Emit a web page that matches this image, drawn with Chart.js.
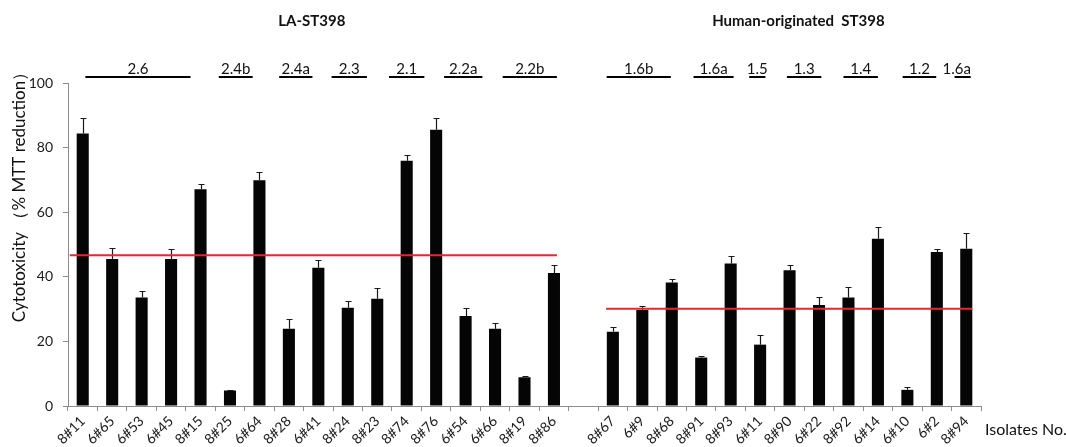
<!DOCTYPE html>
<html>
<head>
<meta charset="utf-8">
<title>Cytotoxicity of ST398 isolates</title>
<script src="https://cdn.jsdelivr.net/npm/chart.js@4.4.1/dist/chart.umd.min.js"></script>
<style>
  html, body { margin: 0; padding: 0; background: #fff; }
  #wrap { width: 1066px; height: 447px; }
</style>
</head>
<body>
<div id="wrap"><canvas id="chart" width="1066" height="447"></canvas></div>
<script>
// Isolates (an empty slot separates the two origin groups)
const isolates = [
  '8#11', '6#65', '6#53', '6#45', '8#15', '8#25', '6#64', '8#28', '6#41',
  '8#24', '8#23', '8#74', '8#76', '6#54', '6#66', '8#19', '8#86',
  '',
  '8#67', '6#9', '8#68', '8#91', '8#93', '6#11', '8#90', '6#22', '8#92',
  '6#14', '6#10', '6#2', '8#94'
];

// Mean cytotoxicity (% MTT reduction)
const cytotoxicity = [
  84.4, 45.5, 33.6, 45.5, 67.1, 4.8, 69.9, 23.9, 42.8,
  30.4, 33.2, 75.9, 85.5, 27.9, 23.9, 8.9, 41.2,
  null,
  23.0, 29.7, 38.2, 15.0, 44.1, 19.0, 42.0, 31.3, 33.6,
  51.8, 5.0, 47.7, 48.7
];

// Standard deviation (upper error bar)
const deviation = [
  4.7, 3.5, 1.9, 3.1, 1.5, 0.3, 2.7, 3.0, 2.3,
  2.1, 3.3, 1.9, 3.7, 2.3, 1.7, 0.5, 2.4,
  null,
  1.5, 1.4, 1.2, 0.6, 2.3, 3.1, 1.8, 2.6, 3.2,
  3.5, 1.0, 0.9, 4.8
];

// Group reference levels (red lines)
const groupTitles = ['LA-ST398', 'Human-originated  ST398'];
const groupLevels = [46.7, 30.1];

// Clade labels above the bars
const cladeLabels = ['2.6', '2.4b', '2.4a', '2.3', '2.1', '2.2a', '2.2b',
                     '1.6b', '1.6a', '1.5', '1.3', '1.4', '1.2', '1.6a'];

const yTicks = [0, 20, 40, 60, 80, 100];

const FONT = 'Lato, "DejaVu Sans", sans-serif';

// Placement of the decorations, in category units along the x scale
const layoutCfg = {
  groupTitleAt: [7.78, 24.3],
  groupLineSpan: [[-0.44, 16.1], [17.77, 30.2]],
  cladeSpan: [
    [0.09, 3.66], [4.62, 5.77], [6.67, 7.80], [8.45, 9.65], [10.40, 11.60],
    [12.27, 13.57], [14.26, 16.10], [17.79, 19.97], [20.74, 22.10],
    [22.63, 23.18], [23.91, 25.08], [25.83, 27.00], [27.84, 28.98], [29.60, 30.15]
  ],
  cladeLabelShift: [0, 0, 0, 0, 0, 0, 0, 0, 0, 0, 0, 0, 0, -0.2]
};

const decorations = {
  id: 'decorations',
  afterDatasetsDraw(chart) {
    const ctx = chart.ctx;
    const xs = chart.scales.x, ys = chart.scales.y;
    const meta = chart.getDatasetMeta(0);

    // upper error bars
    ctx.save();
    ctx.strokeStyle = '#1a1a1a';
    ctx.lineWidth = 1.2;
    meta.data.forEach((bar, i) => {
      const v = cytotoxicity[i], e = deviation[i];
      if (v == null || e == null) return;
      const x = Math.round(bar.x) + 0.5;
      const y0 = ys.getPixelForValue(v);
      const y1 = Math.round(ys.getPixelForValue(v + e)) + 0.5;
      ctx.beginPath();
      ctx.moveTo(x, y0);
      ctx.lineTo(x, y1);
      ctx.moveTo(x - 3, y1);
      ctx.lineTo(x + 3, y1);
      ctx.stroke();
    });

    // group reference lines
    ctx.strokeStyle = '#e8262b';
    ctx.lineWidth = 2;
    groupLevels.forEach((lvl, g) => {
      const [a, b] = layoutCfg.groupLineSpan[g];
      const y = ys.getPixelForValue(lvl);
      ctx.beginPath();
      ctx.moveTo(xs.getPixelForValue(a), y);
      ctx.lineTo(xs.getPixelForValue(b), y);
      ctx.stroke();
    });
    ctx.restore();
  },
  afterDraw(chart) {
    const ctx = chart.ctx;
    const xs = chart.scales.x;
    ctx.save();
    ctx.fillStyle = '#111';

    // group titles
    ctx.font = 'bold 15px ' + FONT;
    ctx.textAlign = 'center';
    ctx.textBaseline = 'alphabetic';
    groupTitles.forEach((t, g) => {
      ctx.fillText(t, xs.getPixelForValue(layoutCfg.groupTitleAt[g]), 26);
    });

    // clade bars and labels
    ctx.font = '15px ' + FONT;
    ctx.strokeStyle = '#000';
    ctx.lineWidth = 2;
    cladeLabels.forEach((lab, k) => {
      const [a, b] = layoutCfg.cladeSpan[k];
      const xa = xs.getPixelForValue(a), xb = xs.getPixelForValue(b);
      ctx.beginPath();
      ctx.moveTo(xa, 77);
      ctx.lineTo(xb, 77);
      ctx.stroke();
      const mid = xs.getPixelForValue((a + b) / 2 + layoutCfg.cladeLabelShift[k]);
      ctx.fillText(lab, mid, 73.5);
    });

    // y axis title
    ctx.save();
    ctx.font = '17px ' + FONT;
    ctx.translate(20, 193);
    ctx.rotate(-Math.PI / 2);
    ctx.textBaseline = 'middle';
    ctx.textAlign = 'center';
    ctx.fillText('Cytotoxicity （% MTT reduction）', 0, 0);
    ctx.restore();

    // x axis title
    ctx.font = '16px ' + FONT;
    ctx.textAlign = 'left';
    ctx.textBaseline = 'alphabetic';
    ctx.fillText('Isolates No.', 985, 435);
    ctx.restore();
  }
};

new Chart(document.getElementById('chart'), {
  type: 'bar',
  data: {
    labels: isolates,
    datasets: [{
      data: cytotoxicity,
      backgroundColor: '#050505',
      borderWidth: 0,
      barPercentage: 0.41,
      categoryPercentage: 1.0
    }]
  },
  options: {
    responsive: false,
    devicePixelRatio: 1,
    animation: false,
    layout: { padding: { top: 83, right: 85, left: 0, bottom: 0 } },
    plugins: { legend: { display: false }, tooltip: { enabled: false } },
    scales: {
      x: {
        offset: true,
        afterFit(scale) { scale.height = 41; },
        grid: {
          offset: true,
          drawOnChartArea: false,
          drawTicks: true,
          tickLength: 5,
          color: '#8c8c8c'
        },
        border: { color: '#8c8c8c', width: 1 },
        ticks: {
          autoSkip: false,
          minRotation: 45,
          maxRotation: 45,
          padding: 2,
          color: '#1a1a1a',
          font: { family: FONT, size: 14 }
        }
      },
      y: {
        min: 0,
        max: 100,
        afterFit(scale) { scale.width = 68; },
        afterBuildTicks(scale) { scale.ticks = yTicks.map(v => ({ value: v })); },
        grid: {
          drawOnChartArea: false,
          drawTicks: true,
          tickLength: 5,
          color: '#8c8c8c'
        },
        border: { color: '#8c8c8c', width: 1 },
        ticks: {
          padding: 10,
          color: '#1a1a1a',
          font: { family: FONT, size: 14 }
        }
      }
    }
  },
  plugins: [decorations]
});
</script>
</body>
</html>
